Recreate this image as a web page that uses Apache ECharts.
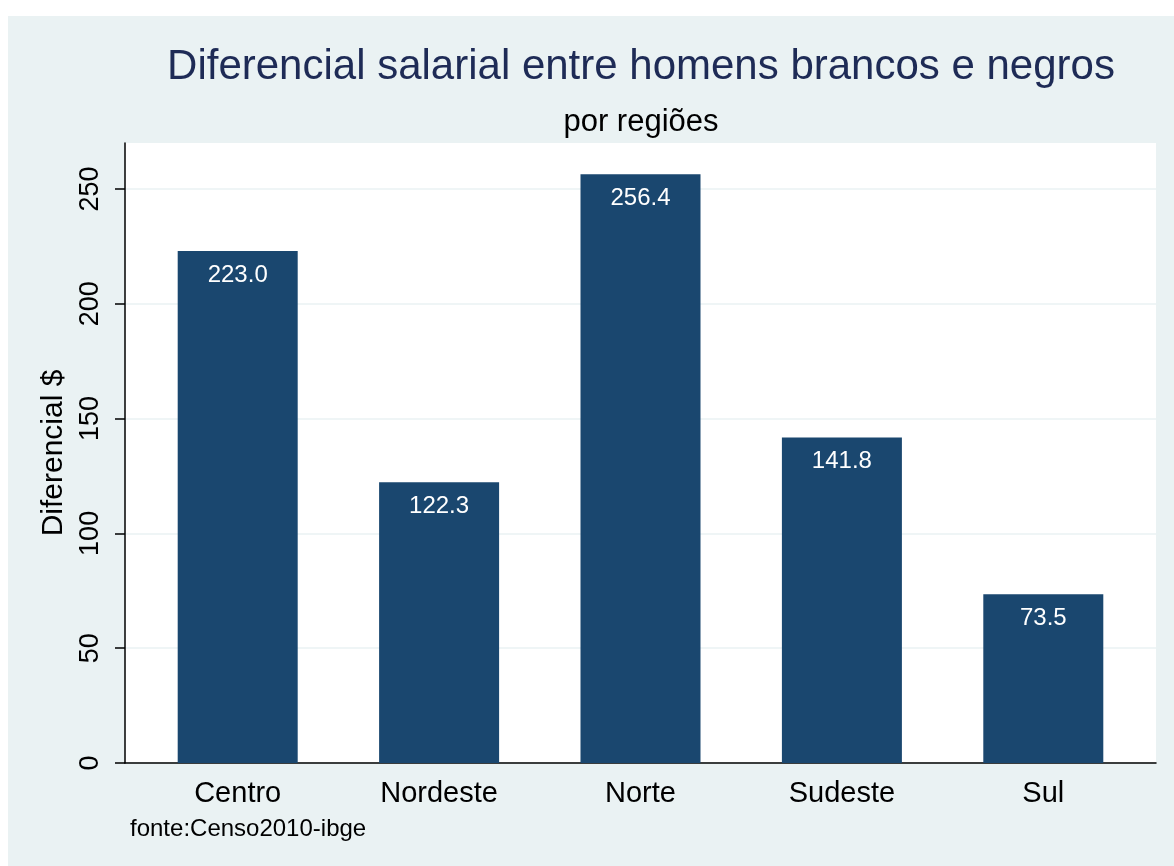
<!DOCTYPE html>
<html>
<head>
<meta charset="utf-8">
<script src="https://cdn.jsdelivr.net/npm/echarts@6/dist/echarts.min.js"></script>
<style>
html,body{margin:0;padding:0;background:#ffffff;}
#bg{position:absolute;left:8px;top:16px;width:1166px;height:850px;background:#eaf2f3;}
#chart{position:absolute;left:0;top:0;width:1174px;height:866px;}
</style>
</head>
<body>
<div id="bg"></div>
<div id="chart"></div>
<script>
const categories = ["Centro", "Nordeste", "Norte", "Sudeste", "Sul"];
const values = [223.0, 122.3, 256.4, 141.8, 73.5];
const yTickMax = 250;
const yTickStep = 50;
const yPlotMax = 270;
const titleText = "Diferencial salarial entre homens brancos e negros";
const subtitleText = "por regiões";
const yTitle = "Diferencial $";
const noteText = "fonte:Censo2010-ibge";

const FONT = "'Liberation Sans', Arial, sans-serif";
const chart = echarts.init(document.getElementById('chart'), null, {renderer: 'canvas'});

// pixel geometry of the plot region
const PLOT_TOP = 143, PLOT_BOTTOM = 103;
const plotH = 866 - PLOT_TOP - PLOT_BOTTOM;
const tickTop = PLOT_TOP + plotH * (yPlotMax - yTickMax) / yPlotMax;

const option = {
  backgroundColor: 'transparent',
  animation: false,
  textStyle: {fontFamily: FONT},
  title: [
    {text: titleText, left: 641, top: 46, textAlign: 'center', padding: 0,
     textStyle: {fontFamily: FONT, fontSize: 42, fontWeight: 'normal', color: '#1e2b56'}},
    {text: subtitleText, left: 641, top: 107, textAlign: 'center', padding: 0,
     textStyle: {fontFamily: FONT, fontSize: 31, fontWeight: 'normal', color: '#000000'}},
    {text: noteText, left: 130, top: 817, padding: 0,
     textStyle: {fontFamily: FONT, fontSize: 24, fontWeight: 'normal', color: '#000000'}}
  ],
  grid: [
    {left: 125, right: 18, top: PLOT_TOP, bottom: PLOT_BOTTOM, show: true, backgroundColor: '#ffffff', borderWidth: 0},
    {left: 137, right: 30, top: PLOT_TOP, bottom: PLOT_BOTTOM},
    {left: 125, right: 18, top: tickTop, bottom: PLOT_BOTTOM}
  ],
  xAxis: [
    {gridIndex: 0, type: 'value', min: 0, max: 1,
     axisLine: {show: true, onZero: false, lineStyle: {color: '#000000', width: 1.5}},
     axisTick: {show: false}, axisLabel: {show: false}, splitLine: {show: false}},
    {gridIndex: 1, type: 'category', data: categories,
     axisLine: {show: false}, axisTick: {show: false},
     axisLabel: {fontFamily: FONT, fontSize: 29, color: '#000000', margin: 16}},
    {gridIndex: 2, type: 'value', min: 0, max: 1, show: false}
  ],
  yAxis: [
    {gridIndex: 0, type: 'value', min: 0, max: yPlotMax,
     name: yTitle, nameLocation: 'middle', nameGap: 56, nameRotate: 90,
     nameTextStyle: {fontFamily: FONT, fontSize: 30, color: '#000000'},
     axisLine: {show: true, onZero: false, lineStyle: {color: '#000000', width: 1.5}},
     axisTick: {show: false}, axisLabel: {show: false}, splitLine: {show: false}},
    {gridIndex: 1, type: 'value', min: 0, max: yPlotMax, show: false},
    {gridIndex: 2, type: 'value', min: 0, max: yTickMax, interval: yTickStep,
     axisLine: {show: false},
     axisTick: {show: true, length: 10, lineStyle: {color: '#000000', width: 1.5}},
     axisLabel: {fontFamily: FONT, fontSize: 27, color: '#000000', rotate: 90, margin: 21},
     splitLine: {show: true, lineStyle: {color: '#eaf2f3', width: 1.5}}}
  ],
  series: [
    {type: 'bar', xAxisIndex: 1, yAxisIndex: 1, data: values, barWidth: 120,
     itemStyle: {color: '#1a476f'},
     label: {show: true, position: 'insideTop', distance: 12, color: '#ffffff',
             fontFamily: FONT, fontSize: 24,
             formatter: p => p.value.toFixed(1)}}
  ]
};
chart.setOption(option);
</script>
</body>
</html>
